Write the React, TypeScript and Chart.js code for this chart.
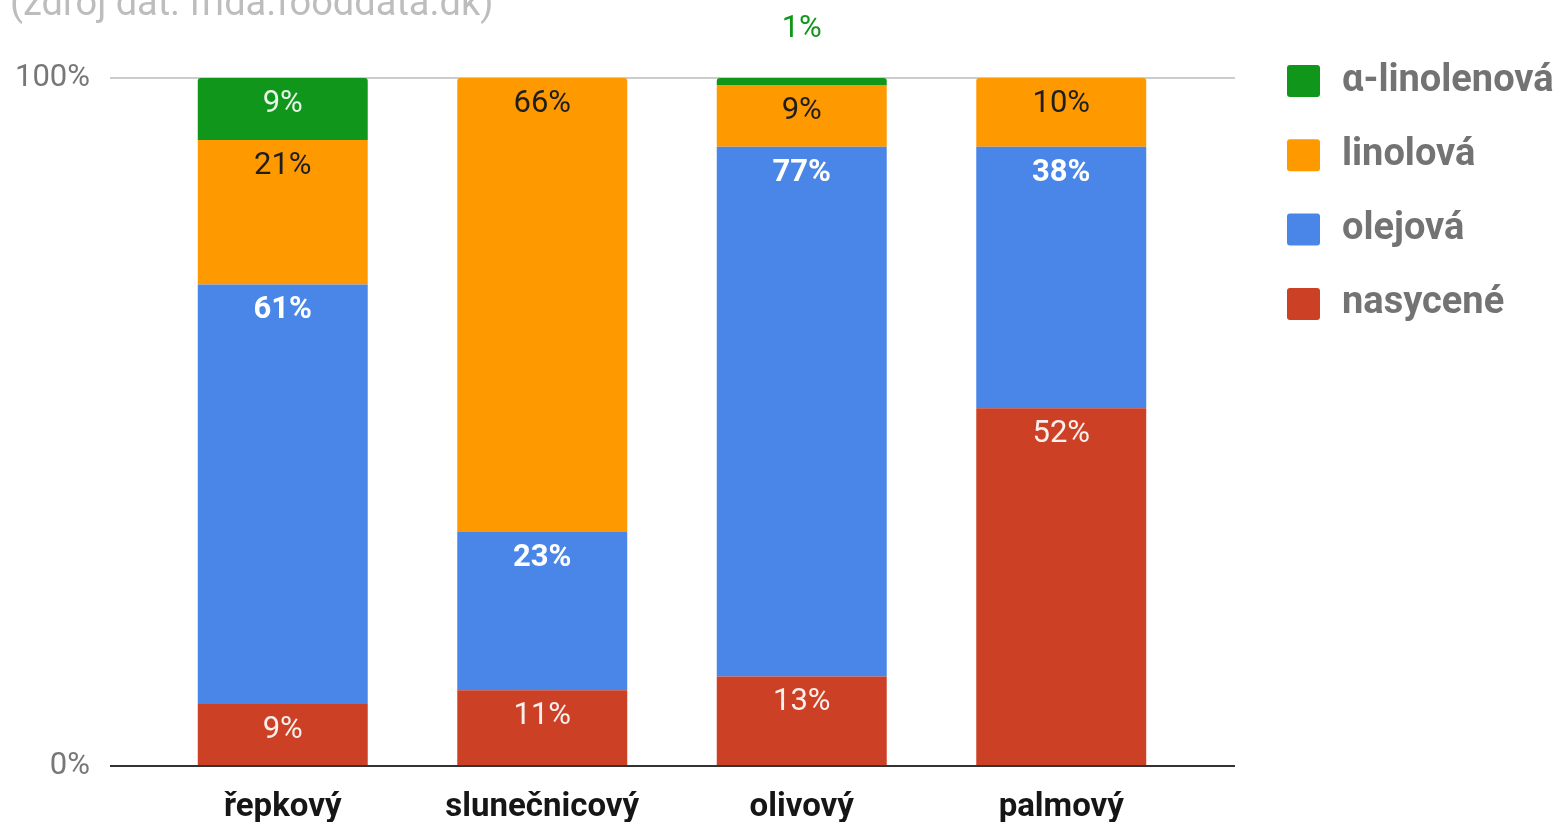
import React, { useEffect, useRef } from 'react';
import { Chart, registerables } from 'chart.js';

Chart.register(...registerables);

const categories = ['řepkový', 'slunečnicový', 'olivový', 'palmový'];
const seriesNames = ['nasycené', 'olejová', 'linolová', 'α-linolenová'];
const nasycene = [9, 11, 13, 52];
const olejova = [61, 23, 77, 38];
const linolova = [21, 66, 9, 10];
const alfaLinolenova = [9, 0, 1, 0];
const yTicks = [0, 100];
const sourceNote = '(zdroj dat: frida.fooddata.dk)';

const seriesColors = ['#cc4125', '#4a86e8', '#ff9900', '#11961c'];
const labelColors = ['rgba(255,255,255,0.92)', '#ffffff', '#1e1e1e', 'rgba(255,255,255,0.9)'];
const labelWeights = ['normal', 'bold', 'normal', 'normal'];
const FONT = 'Roboto, "Noto Sans", sans-serif';

const linesPlugin = {
  id: 'refLines',
  beforeDatasetsDraw(chart: any) {
    const { ctx, chartArea } = chart;
    const y = chart.scales.y.getPixelForValue(100);
    ctx.save();
    ctx.strokeStyle = '#cccccc';
    ctx.lineWidth = 2;
    ctx.beginPath();
    ctx.moveTo(chartArea.left - 43, y);
    ctx.lineTo(chartArea.right + 44, y);
    ctx.stroke();
    ctx.restore();
  },
  afterDatasetsDraw(chart: any) {
    const { ctx, chartArea } = chart;
    const y = chart.scales.y.getPixelForValue(0);
    ctx.save();
    ctx.strokeStyle = '#333333';
    ctx.lineWidth = 2;
    ctx.beginPath();
    ctx.moveTo(chartArea.left - 43, y);
    ctx.lineTo(chartArea.right + 44, y);
    ctx.stroke();
    ctx.restore();
  },
};

const labelPlugin = {
  id: 'segLabels',
  afterDatasetsDraw(chart: any) {
    const ctx = chart.ctx;
    chart.data.datasets.forEach((ds: any, di: number) => {
      const meta = chart.getDatasetMeta(di);
      meta.data.forEach((bar: any, i: number) => {
        const v = ds.data[i];
        if (!v) return;
        const { x, y, base } = bar.getProps(['x', 'y', 'base'], true);
        const h = base - y;
        let ty = y + 26;
        let color = labelColors[di];
        if (h < 30) {
          ty = y - 49;
          color = ds.backgroundColor;
        }
        ctx.save();
        ctx.font = `${labelWeights[di]} 31px ${FONT}`;
        ctx.fillStyle = color;
        ctx.textAlign = 'center';
        ctx.textBaseline = 'middle';
        ctx.fillText(v + '%', x, ty);
        ctx.restore();
      });
    });
  },
};

const legendTitlePlugin = {
  id: 'legendTitle',
  afterDraw(chart: any) {
    const { ctx, chartArea } = chart;
    ctx.save();
    ctx.font = `normal 38px ${FONT}`;
    ctx.fillStyle = '#bdbdbd';
    ctx.textAlign = 'left';
    ctx.textBaseline = 'alphabetic';
    ctx.fillText(sourceNote, 10, 15);
    const order = chart.data.datasets.map((_: any, i: number) => i).reverse();
    order.forEach((di: number, k: number) => {
      const ds = chart.data.datasets[di];
      const cy = chartArea.top + 3 + k * 74.3;
      const bx = chartArea.right + 96;
      ctx.fillStyle = ds.backgroundColor;
      ctx.beginPath();
      (ctx as any).roundRect(bx, cy - 16, 33, 32, 3);
      ctx.fill();
      ctx.font = `bold 38px ${FONT}`;
      ctx.fillStyle = '#737373';
      ctx.textBaseline = 'middle';
      ctx.fillText(ds.label, bx + 55, cy);
    });
    ctx.restore();
  },
};

export default function App() {
  const ref = useRef<HTMLCanvasElement>(null);
  useEffect(() => {
    const series = [nasycene, olejova, linolova, alfaLinolenova];
    const chart = new Chart(ref.current as HTMLCanvasElement, {
      type: 'bar',
      data: {
        labels: categories,
        datasets: series.map((d, i) => ({
          label: seriesNames[i],
          data: d,
          backgroundColor: seriesColors[i],
          borderWidth: 0,
          borderRadius: 3,
          borderSkipped: 'start',
          barPercentage: 0.655,
          categoryPercentage: 1,
        })),
      },
      options: {
        responsive: true,
        maintainAspectRatio: false,
        devicePixelRatio: 1,
        animation: false,
        layout: { padding: { top: 78, right: 369, left: 0, bottom: 0 } },
        plugins: {
          legend: { display: false },
          tooltip: { enabled: false },
          title: { display: false },
        },
        scales: {
          x: {
            stacked: true,
            grid: { display: false },
            border: { display: false },
            ticks: {
              color: '#161616',
              font: { family: FONT, size: 33, weight: 'bold' },
              padding: 14,
              maxRotation: 0,
            },
            afterFit: (s: any) => {
              s.height = 56;
            },
          },
          y: {
            stacked: true,
            min: 0,
            max: 100,
            grid: { display: false, drawTicks: false },
            border: { display: false },
            afterBuildTicks: (s: any) => {
              s.ticks = yTicks.map((v) => ({ value: v }));
            },
            ticks: {
              color: '#777777',
              font: { family: FONT, size: 31 },
              padding: 63,
              callback: (v: any) => v + '%',
            },
            afterFit: (s: any) => {
              s.width = 153;
              s.paddingTop = 20;
              s.paddingBottom = 20;
            },
          },
        },
      },
      plugins: [linesPlugin, labelPlugin, legendTitlePlugin],
    } as any);
    return () => chart.destroy();
  }, []);
  return (
    <div style={{ position: 'absolute', left: 0, top: 0, width: 1560, height: 822 }}>
      <canvas ref={ref} />
    </div>
  );
}
